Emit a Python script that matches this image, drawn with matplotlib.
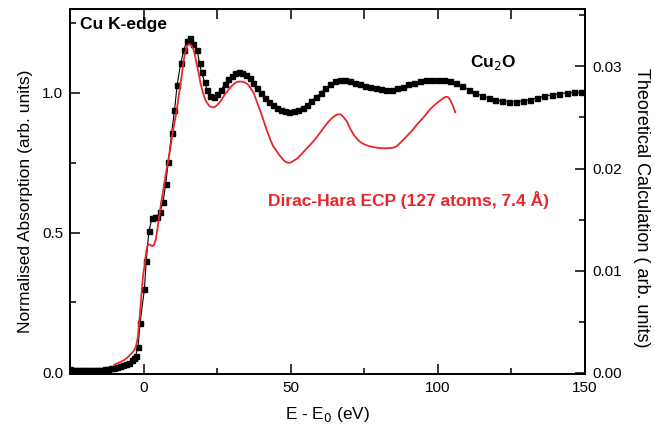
import numpy as np
import matplotlib
matplotlib.use('Agg')
import matplotlib.pyplot as plt

plt.rcParams['font.family'] = ['Liberation Sans', 'DejaVu Sans']

# experimental Cu K-edge, Cu2O (normalised absorption)
e_exp = [-25, -24, -23, -22, -21, -20, -19, -18, -17, -16, -15, -14, -13, -12,
         -11, -10, -9, -8, -7, -6, -5, -4, -3.4,
         -2.7, -1.9, -1.2, 0.3, 0.9, 1.8, 2.9, 3.8, 4.6, 5.6, 6.6, 7.5, 8.4,
         9.5, 10.5, 11.4, 12.6, 13.7, 14.6, 15.7, 16.9, 18.2, 19.0, 19.7,
         20.7, 21.6, 22.7, 23.8, 25.0, 26.3, 27.5, 28.7, 30.0, 31.2, 32.4,
         33.6, 34.8, 36.0, 37.3, 38.6, 39.9, 41.2, 42.5, 43.9, 45.3, 46.7,
         48.1, 49.5, 51.0, 52.5, 54.0, 55.5, 57.0, 58.6, 60.2, 61.8, 63.4,
         65.0, 66.6, 68.3, 70.0, 71.7, 73.4, 75.2, 77.0, 78.8, 80.6, 82.4,
         84.3, 86.2, 88.1, 90.0, 92.0, 94.0, 96.0, 98.0, 100.0, 102.0, 104.1,
         106.2, 108.3, 110.5, 112.7, 114.9, 117.2, 119.5, 121.8, 124.1, 126.5,
         128.9, 131.3, 133.7, 136.2, 138.7, 141.2, 143.7, 146.2, 148.7]
a_exp = [0.012, 0.010, 0.009, 0.008, 0.007, 0.007, 0.007, 0.007, 0.008, 0.008,
         0.009, 0.010, 0.011, 0.013, 0.015, 0.017, 0.019, 0.022, 0.026, 0.030,
         0.035, 0.043, 0.050,
         0.060, 0.090, 0.177, 0.300, 0.400, 0.505, 0.554, 0.556, 0.555, 0.575,
         0.608, 0.673, 0.754, 0.855, 0.937, 1.029, 1.106, 1.154, 1.184, 1.196,
         1.176, 1.152, 1.106, 1.073, 1.040, 1.010, 0.990, 0.985, 0.995, 1.010,
         1.030, 1.048, 1.062, 1.070, 1.073, 1.071, 1.064, 1.052, 1.036, 1.018,
         1.000, 0.983, 0.968, 0.955, 0.945, 0.938, 0.934, 0.933, 0.934, 0.938,
         0.946, 0.957, 0.970, 0.985, 1.000, 1.016, 1.030, 1.041, 1.047, 1.046,
         1.041, 1.035, 1.030, 1.025, 1.021, 1.018, 1.014, 1.012, 1.012, 1.016,
         1.022, 1.030, 1.037, 1.042, 1.045, 1.047, 1.047, 1.046, 1.043, 1.036,
         1.025, 1.012, 1.000, 0.990, 0.981, 0.975, 0.971, 0.969, 0.969, 0.971,
         0.976, 0.982, 0.988, 0.993, 0.997, 1.000, 1.002, 1.003]

# theoretical calculation (Dirac-Hara ECP), right axis
e_th = [-10.0, -8.5, -7.0, -5.5, -4.5, -3.5, -2.7, -2.2, -1.9, -1.4, -1.0, -0.7,
        -0.2, 0.45, 0.9, 1.25, 1.7, 2.1, 2.5, 2.95, 3.5, 4.1, 4.5, 4.9, 5.8,
        6.9, 8.0, 9.0, 9.7, 10.5, 11.2, 12.0, 12.6, 13.2, 13.7, 14.3, 14.8,
        15.3, 15.7, 16.3, 16.9, 17.5, 18.2, 18.8, 19.3, 19.9, 20.5, 21.0, 21.6,
        22.4, 23.3, 24.1, 25.0, 26.2, 27.5, 28.8, 30.0, 31.2, 32.4, 33.5, 34.5,
        35.5, 36.5, 37.4, 38.4, 39.3, 40.3, 41.2, 42.2, 43.1, 44.0, 45.0, 45.9,
        47.0, 48.0, 49.0, 50.0, 51.2, 52.3, 53.3, 54.6, 55.9, 57.2, 58.4, 59.7,
        61.0, 62.3, 63.5, 64.7, 65.9, 67.0, 68.0, 69.1, 70.2, 71.4, 72.5, 73.6,
        74.8, 76.4, 78.1, 80.0, 81.9, 83.8, 85.0, 86.1, 87.5, 88.9, 90.9, 92.9,
        95.1, 97.4, 99.6, 101.0, 101.9, 102.6, 103.3, 104.0, 104.7, 105.3, 105.9]
t_th = [0.0008, 0.0010, 0.0012, 0.0015, 0.0018, 0.0021, 0.0025, 0.0031, 0.0037,
        0.0052, 0.0066, 0.0078, 0.0095, 0.01075, 0.0119, 0.0124, 0.01255,
        0.01255, 0.0125, 0.0124, 0.0125, 0.0130, 0.0137, 0.0145, 0.0163, 0.0183,
        0.0202, 0.0218, 0.0232, 0.0245, 0.0256, 0.0272, 0.0284, 0.0296, 0.0307,
        0.0315, 0.0320, 0.03215, 0.03216, 0.0320, 0.0317, 0.0310, 0.0300,
        0.0292, 0.0284, 0.0277, 0.0271, 0.0267, 0.0264, 0.0261, 0.0260, 0.0260,
        0.0262, 0.0266, 0.0272, 0.0277, 0.0281, 0.0284, 0.0285, 0.02850, 0.0284,
        0.0282, 0.0278, 0.0274, 0.0266, 0.0259, 0.0251, 0.0243, 0.0235, 0.0228,
        0.0222, 0.0218, 0.0214, 0.0210, 0.0207, 0.02056, 0.02058, 0.0208,
        0.0210, 0.0213, 0.0217, 0.0221, 0.0225, 0.0229, 0.0234, 0.0239, 0.0244,
        0.0248, 0.0251, 0.0253, 0.0253, 0.0250, 0.0246, 0.0239, 0.0233, 0.0229,
        0.0226, 0.0224, 0.0222, 0.0221, 0.0220, 0.02198, 0.0220, 0.02205, 0.0222,
        0.0226, 0.0230, 0.0236, 0.0243, 0.0250, 0.0258, 0.0264, 0.0267, 0.0269,
        0.0270, 0.0270, 0.0268, 0.0264, 0.0260, 0.0255]

red = '#e8262d'

fig = plt.figure(figsize=(6.55, 4.34), dpi=100)
ax = fig.add_axes([0.1069, 0.1382, 0.7863, 0.8410])
ax.plot(e_exp, a_exp, color='black', lw=0.8, marker='s', ms=3.6, mec='black',
        mfc='black', zorder=3)
ax.set_xlim(-25, 150)
ax.set_ylim(-0.006, 1.30)
ax.set_xticks([0, 50, 100, 150])
ax.set_xticks([25, 75, 125], minor=True)
ax.set_yticks([0.0, 0.5, 1.0])
ax.set_yticks([0.25, 0.75, 1.25], minor=True)
ax.set_yticklabels(['0.0', '0.5', '1.0'])
ax.tick_params(which='both', direction='in', labelsize=11, width=1.1)
ax.tick_params(which='major', length=7, pad=5)
ax.tick_params(which='minor', length=4)
ax.set_xlabel('E - E$_0$ (eV)', fontsize=12.4, labelpad=7)
ax.set_ylabel('Normalised Absorption (arb. units)', fontsize=12.5)
ax.yaxis.set_label_coords(-0.072, 0.474)

top = ax.secondary_xaxis('top')
top.set_xticks([0, 25, 50, 75, 100, 125])
top.tick_params(direction='in', length=7, width=1.1, labeltop=False)

ax2 = ax.twinx()
ax2.plot(e_th, t_th, color=red, lw=1.3, zorder=2)
ax2.set_ylim(-0.0001, 0.0356)
ax2.set_yticks([0.0, 0.01, 0.02, 0.03])
ax2.set_yticks([0.005, 0.015, 0.025, 0.035], minor=True)
ax2.set_yticklabels(['0.00', '0.01', '0.02', '0.03'])
ax2.tick_params(which='both', direction='in', labelsize=11, width=1.1)
ax2.tick_params(which='major', length=7, pad=5)
ax2.tick_params(which='minor', length=4)
ax2.set_ylabel('Theoretical Calculation ( arb. units)', fontsize=13,
               rotation=270, va='bottom')
ax2.yaxis.set_label_coords(1.094, 0.455)

for a in (ax, ax2):
    for s in a.spines.values():
        s.set_linewidth(1.3)

ax.text(-21.6, 1.245, 'Cu K-edge', fontsize=12.5, fontweight='bold', va='center')
ax.text(111, 1.11, 'Cu$_2$O', fontsize=12.5, fontweight='bold', va='center')
ax.text(42.4, 0.615, 'Dirac-Hara ECP (127 atoms, 7.4 Å)', fontsize=12.5,
        fontweight='bold', color=red, va='center')

fig.savefig('out.png', dpi=100)
